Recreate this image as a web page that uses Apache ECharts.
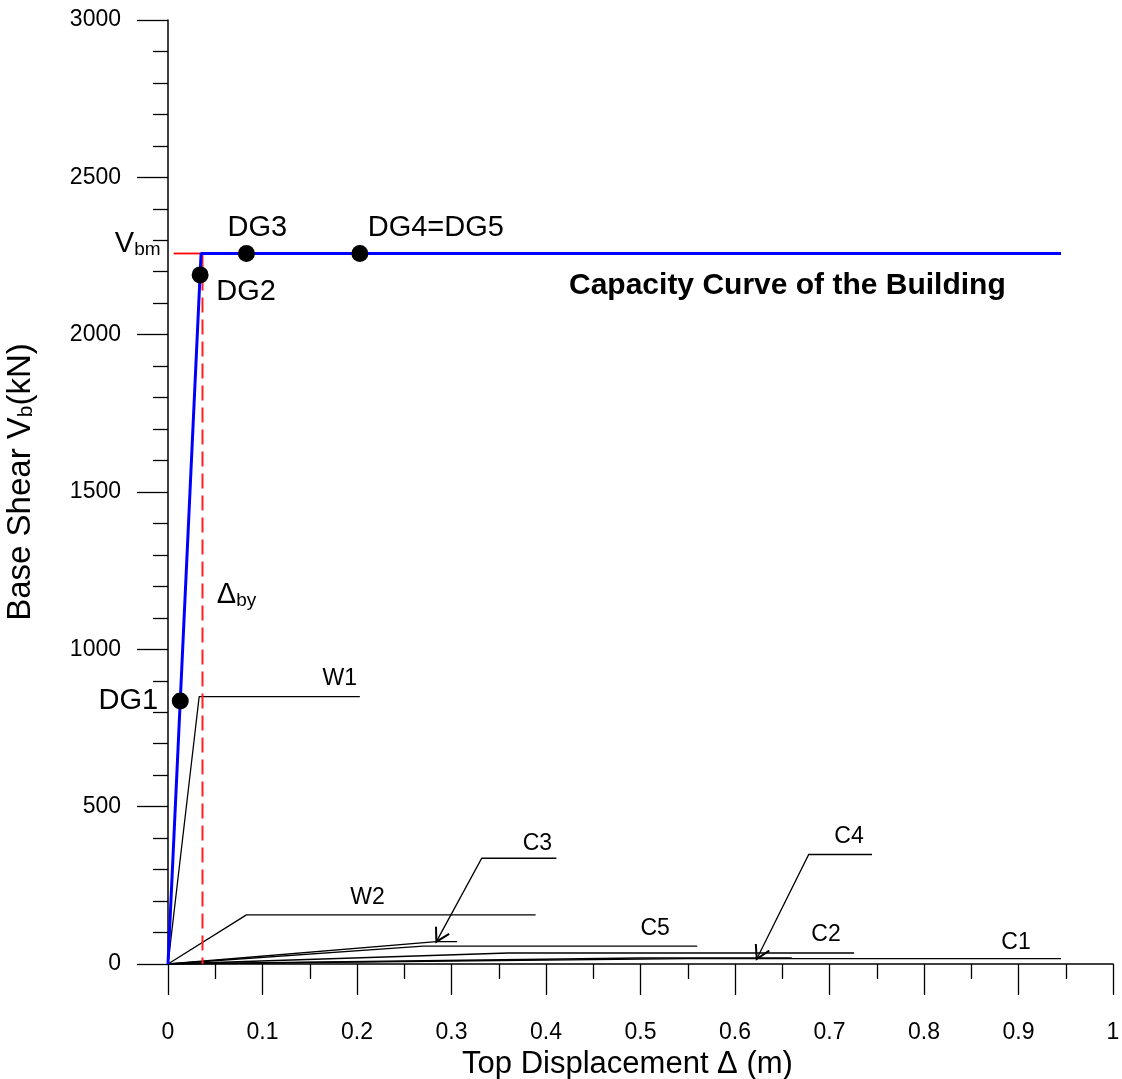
<!DOCTYPE html>
<html>
<head>
<meta charset="utf-8">
<script src="https://cdn.jsdelivr.net/npm/echarts@6/dist/echarts.min.js"></script>
<style>
  html, body { margin: 0; padding: 0; background: #fff; }
  #chart { width: 1122px; height: 1079px; }
</style>
</head>
<body>
<div id="chart"></div>
<script>
// Axis ticks
const xTicks = [0, 0.1, 0.2, 0.3, 0.4, 0.5, 0.6, 0.7, 0.8, 0.9, 1];
const yTicks = [0, 500, 1000, 1500, 2000, 2500, 3000];

// Capacity curve of the whole building (displacement m, base shear kN)
const capacityX = [0, 0.035, 0.945];
const capacityV = [0, 2258, 2258];

// Idealised yield point
const yieldDisp = 0.0365;
const maxShear = 2258;
const shearLineStart = 0.006;

// Damage grade points
const dgNames = ['DG1', 'DG2', 'DG3', 'DG4=DG5'];
const dgX = [0.013, 0.034, 0.083, 0.203];
const dgV = [836, 2190, 2258, 2258];

// Element capacity curves (bilinear): yield point and ultimate displacement
const compNames = ['W1', 'W2', 'C1', 'C2', 'C3', 'C4', 'C5'];
const compYieldX = [0.033, 0.083, 0.55, 0.36, 0.284, 0.5, 0.27];
const compYieldV = [850, 156, 17, 35, 71, 19, 57];
const compUltX = [0.203, 0.389, 0.945, 0.726, 0.306, 0.66, 0.56];

// Leader lines for curves whose names are placed away from them
const calloutNames = ['C3', 'C4'];
const calloutTip = [[0.284, 71], [0.623, 16]];
const calloutElbow = [[0.332, 336], [0.678, 348]];
const calloutEnd = [[0.411, 336], [0.745, 348]];

// Label placement (pixel offsets from the anchor point)
const FONT = 'Liberation Sans, Arial, Helvetica, sans-serif';
const compLabelOffset = {
  W1: [-20, -18], W2: [-168, -17], C1: [-45, -16], C2: [-28, -18],
  C3: [-19, -15], C4: [-23, -18], C5: [-42, -17]
};
const dgLabelOffset = {
  'DG1': [-52, 0], 'DG2': [46, 17], 'DG3': [11, -25], 'DG4=DG5': [76, -25]
};

const chart = echarts.init(document.getElementById('chart'), null, { renderer: 'canvas' });

const compSeries = compNames.map((name, i) => ({
  name: name,
  type: 'line',
  data: [[0, 0], [compYieldX[i], compYieldV[i]], [compUltX[i], compYieldV[i]]],
  showSymbol: false,
  symbol: 'none',
  lineStyle: { color: '#000', width: 1.3 },
  z: 2,
  silent: true
}));

// Anchor of each curve name: end of its leader if it has one, else end of the curve
const compLabelData = compNames.map((name, i) => {
  const c = calloutNames.indexOf(name);
  const anchor = c >= 0 ? calloutEnd[c] : [compUltX[i], compYieldV[i]];
  return { name: name, value: anchor, label: { offset: compLabelOffset[name] } };
});

const option = {
  animation: false,
  backgroundColor: '#fff',
  title: {
    text: 'Capacity Curve of the Building',
    left: 564,
    top: 266,
    textStyle: { fontFamily: FONT, fontWeight: 'bold', fontSize: 30, color: '#000' }
  },
  grid: { left: 168, top: 20, right: 9, bottom: 115, outerBoundsMode: 'none', containLabel: false },
  xAxis: {
    type: 'value',
    min: 0, max: 1, interval: 0.1,
    name: 'Top Displacement Δ (m)',
    nameLocation: 'middle',
    nameGap: 72,
    nameTextStyle: { fontFamily: FONT, fontSize: 31, color: '#000', padding: [0, 26, 0, 0] },
    axisLine: { show: true, onZero: false, lineStyle: { color: '#000', width: 1.5 } },
    axisTick: { show: true, inside: false, length: 31, lineStyle: { color: '#000', width: 1.3 } },
    minorTick: { show: true, splitNumber: 2, length: 15, lineStyle: { color: '#000', width: 1.3 } },
    axisLabel: {
      margin: 57, fontFamily: FONT, fontSize: 23, color: '#000',
      formatter: v => xTicks.find(t => Math.abs(t - v) < 1e-9).toString()
    },
    splitLine: { show: false }
  },
  yAxis: {
    type: 'value',
    min: 0, max: 3000, interval: 500,
    name: 'Base Shear V{s|b}(kN)',
    nameLocation: 'middle',
    nameGap: 131,
    nameTextStyle: {
      fontFamily: FONT, fontSize: 33, color: '#000', padding: [0, 0, 0, 20],
      rich: { s: { fontFamily: FONT, fontSize: 21, color: '#000', verticalAlign: 'bottom', lineHeight: 14 } }
    },
    axisLine: { show: true, onZero: false, lineStyle: { color: '#000', width: 1.5 } },
    axisTick: { show: true, inside: false, length: 31, lineStyle: { color: '#000', width: 1.3 } },
    minorTick: { show: true, splitNumber: 5, length: 15, lineStyle: { color: '#000', width: 1.3 } },
    axisLabel: {
      margin: 47, fontFamily: FONT, fontSize: 23, color: '#000',
      formatter: v => yTicks.find(t => Math.abs(t - v) < 1e-9).toString()
    },
    splitLine: { show: false }
  },
  series: [
    ...compSeries,
    {
      name: 'callouts',
      type: 'custom',
      silent: true,
      z: 2,
      encode: { x: [0, 2, 4], y: [1, 3, 5] },
      data: calloutNames.map((n, i) => [
        calloutTip[i][0], calloutTip[i][1],
        calloutElbow[i][0], calloutElbow[i][1],
        calloutEnd[i][0], calloutEnd[i][1]
      ]),
      renderItem: (params, api) => {
        const tip = api.coord([api.value(0), api.value(1)]);
        const elbow = api.coord([api.value(2), api.value(3)]);
        const end = api.coord([api.value(4), api.value(5)]);
        const ang = Math.atan2(elbow[1] - tip[1], elbow[0] - tip[0]);
        const L = 15, a = Math.PI / 6;
        const w1 = [tip[0] + L * Math.cos(ang + a), tip[1] + L * Math.sin(ang + a)];
        const w2 = [tip[0] + L * Math.cos(ang - a), tip[1] + L * Math.sin(ang - a)];
        return {
          type: 'group',
          children: [
            { type: 'polyline', shape: { points: [end, elbow, tip] },
              style: { stroke: '#000', lineWidth: 1.3, fill: null } },
            { type: 'polyline', shape: { points: [w1, tip, w2] },
              style: { stroke: '#000', lineWidth: 2, fill: null } }
          ]
        };
      }
    },
    {
      name: 'shearLevel',
      type: 'line',
      data: [[shearLineStart, maxShear], [yieldDisp, maxShear]],
      showSymbol: false, symbol: 'none',
      lineStyle: { color: '#ff0000', width: 1.8 },
      z: 3, silent: true
    },
    {
      name: 'yieldDisp',
      type: 'line',
      data: [[yieldDisp, maxShear], [yieldDisp, 0]],
      showSymbol: false, symbol: 'none',
      lineStyle: { color: '#ff2020', width: 2, type: [15, 7] },
      z: 3, silent: true
    },
    {
      name: 'capacity',
      type: 'line',
      data: capacityX.map((x, i) => [x, capacityV[i]]),
      showSymbol: false, symbol: 'none',
      lineStyle: { color: '#0000ff', width: 3 },
      z: 4, silent: true
    },
    {
      name: 'damageGrades',
      type: 'scatter',
      symbol: 'circle',
      symbolSize: 17,
      itemStyle: { color: '#000', opacity: 1 },
      z: 5, silent: true,
      label: {
        show: true, position: 'inside', formatter: '{b}',
        fontFamily: FONT, fontSize: 29, color: '#000', opacity: 1
      },
      data: dgNames.map((n, i) => ({ name: n, value: [dgX[i], dgV[i]], label: { offset: dgLabelOffset[n] } }))
    },
    {
      name: 'curveNames',
      type: 'scatter',
      symbolSize: 1,
      itemStyle: { color: 'rgba(0,0,0,0)', opacity: 1 },
      z: 6, silent: true,
      label: {
        show: true, position: 'inside', formatter: '{b}',
        fontFamily: FONT, fontSize: 23, color: '#000', opacity: 1
      },
      data: compLabelData
    },
    {
      name: 'yieldNames',
      type: 'scatter',
      symbolSize: 1,
      itemStyle: { color: 'rgba(0,0,0,0)', opacity: 1 },
      z: 6, silent: true,
      label: {
        show: true, position: 'inside', opacity: 1,
        formatter: p => p.name === 'Vbm' ? '{m|V}{s|bm}' : '{m|Δ}{s|by}',
        rich: {
          m: { fontFamily: FONT, fontSize: 29, color: '#000', lineHeight: 30 },
          s: { fontFamily: FONT, fontSize: 19, color: '#000', lineHeight: 12, verticalAlign: 'bottom' }
        }
      },
      data: [
        { name: 'Vbm', value: [shearLineStart, maxShear], label: { offset: [-36, -9] } },
        { name: 'Dby', value: [yieldDisp, maxShear], label: { offset: [34, 342] } }
      ]
    }
  ]
};

chart.setOption(option);
</script>
</body>
</html>
